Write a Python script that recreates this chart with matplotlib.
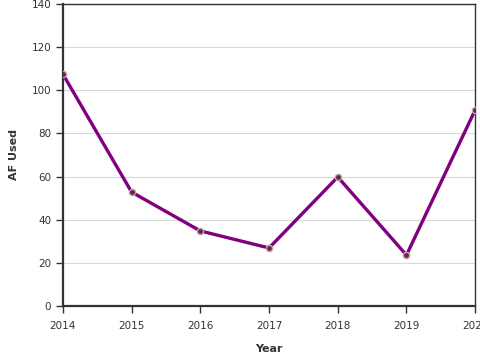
import matplotlib
matplotlib.use("Agg")
import matplotlib.pyplot as plt

years = [2014, 2015, 2016, 2017, 2018, 2019, 2020]
af_used = [107.5, 52.8, 34.8, 26.9, 59.8, 23.6, 90.9]
y_ticks = [0, 20, 40, 60, 80, 100, 120, 140]

fig = plt.figure(figsize=(4.8, 3.6), dpi=100)
ax = fig.add_axes([0.131, 0.15, 0.859, 0.839])

ax.plot(years, af_used, color="#800080", lw=2.4, zorder=3,
        marker="o", ms=4.5, mfc="#5a2d4a", mec="#c9a3a8", mew=1.0)

ax.set_xlim(2014, 2020)
ax.set_ylim(0, 140)
ax.set_yticks(y_ticks)
ax.set_xticks(years)
ax.set_xticklabels([str(y) for y in years])
ax.grid(axis="y", color="#d9d9d9", lw=0.8)
ax.set_axisbelow(True)

for s in ["left", "bottom"]:
    ax.spines[s].set_linewidth(1.6)
    ax.spines[s].set_color("#333333")
for s in ["top", "right"]:
    ax.spines[s].set_linewidth(1.0)
    ax.spines[s].set_color("#333333")

ax.tick_params(axis="both", labelsize=7.5, colors="#333333", length=5, width=1)
ax.tick_params(axis="x", pad=6)
ax.set_xlabel("Year", fontsize=8, fontweight="bold", color="#333333", labelpad=9)
ax.set_ylabel("AF Used", fontsize=8, fontweight="bold", color="#333333", labelpad=9)

fig.savefig("out.png", dpi=100)
